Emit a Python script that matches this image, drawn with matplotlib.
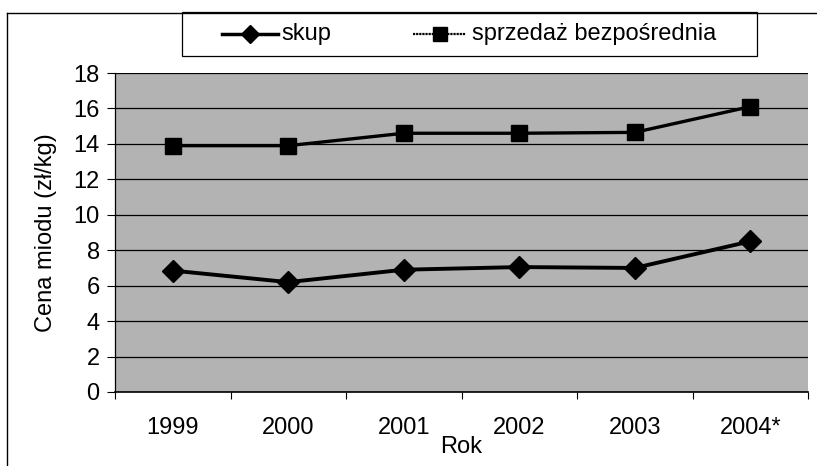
import matplotlib
matplotlib.use("Agg")
import matplotlib.pyplot as plt
from matplotlib.lines import Line2D
from matplotlib.patches import Rectangle
import numpy as np

years = ["1999", "2000", "2001", "2002", "2003", "2004*"]
skup = [6.85, 6.2, 6.9, 7.05, 7.0, 8.5]
sprzedaz = [13.9, 13.9, 14.6, 14.6, 14.65, 16.1]
series_names = ["skup", "sprzedaż bezpośrednia"]
y_ticks = [0, 2, 4, 6, 8, 10, 12, 14, 16, 18]

plt.rcParams['font.family'] = ['Liberation Sans', 'DejaVu Sans']

W, H = 817, 466
fig = plt.figure(figsize=(W / 100, H / 100), dpi=100)

def fx(px):
    return px / W

def fy(py):
    return 1 - py / H

FS = 17

left, right, top, bottom = 115, 808, 73, 392
ax = fig.add_axes([fx(left), fy(bottom), fx(right) - fx(left), fy(top) - fy(bottom)])
ax.set_facecolor('#b3b3b3')

x = np.arange(len(years))
ax.plot(x, skup, color='black', linewidth=2.8, marker='D', markersize=11,
        markerfacecolor='black', markeredgecolor='black', zorder=3)
ax.plot(x, sprzedaz, color='black', linewidth=2.4, marker='s', markersize=12,
        markerfacecolor='black', markeredgecolor='black', zorder=3)

ax.set_xlim(-0.5, len(years) - 0.5)
ax.set_ylim(0, 18)
ax.set_yticks(y_ticks)
ax.set_yticklabels([str(t) for t in y_ticks], fontsize=FS)
ax.set_xticks(x)
ax.set_xticklabels(years, fontsize=FS)
ax.tick_params(axis='x', which='major', length=0, pad=18)
ax.set_xticks(np.arange(-0.5, len(years)), minor=True)
ax.tick_params(axis='x', which='minor', length=5, direction='out', width=0.8)
ax.tick_params(axis='y', length=6, direction='out', width=0.8, pad=5)
ax.yaxis.grid(True, color='black', linewidth=0.9)
ax.set_axisbelow(True)
for s in ['top', 'right']:
    ax.spines[s].set_visible(False)
ax.spines['left'].set_linewidth(0.9)
ax.spines['bottom'].set_linewidth(1.2)

ax.set_ylabel("Cena miodu (zł/kg)", fontsize=FS, labelpad=12)
ax.set_xlabel("Rok", fontsize=FS, labelpad=-2)

# legend box drawn manually
lx0, ly0, lx1, ly1 = 182, 12, 757, 56
fig.add_artist(Rectangle((fx(lx0), fy(ly1)), fx(lx1) - fx(lx0), fy(ly0) - fy(ly1),
                         transform=fig.transFigure, facecolor='white', edgecolor='black',
                         linewidth=0.9))
ly = 34
fig.add_artist(Line2D([fx(222), fx(278)], [fy(ly), fy(ly)], color='black', linewidth=2.5,
                      transform=fig.transFigure))
fig.add_artist(Line2D([fx(250)], [fy(ly)], color='black', marker='D', markersize=9,
                      transform=fig.transFigure))
fig.text(fx(281), fy(ly), series_names[0], fontsize=FS, va='center', ha='left')
fig.add_artist(Line2D([fx(413), fx(466)], [fy(ly), fy(ly)], color='black', linewidth=1.6,
                      linestyle=(0, (1, 0.4)), transform=fig.transFigure))
fig.add_artist(Line2D([fx(440)], [fy(ly)], color='black', marker='s', markersize=10,
                      transform=fig.transFigure))
fig.text(fx(472), fy(ly), series_names[1], fontsize=FS, va='center', ha='left')

# outer border (left and top edges)
fig.add_artist(Line2D([fx(7), fx(7)], [fy(13), 0], color='black', linewidth=1.0, transform=fig.transFigure))
fig.add_artist(Line2D([fx(7), 1], [fy(13), fy(13)], color='black', linewidth=1.0, transform=fig.transFigure))

fig.savefig("out.png", dpi=100)
